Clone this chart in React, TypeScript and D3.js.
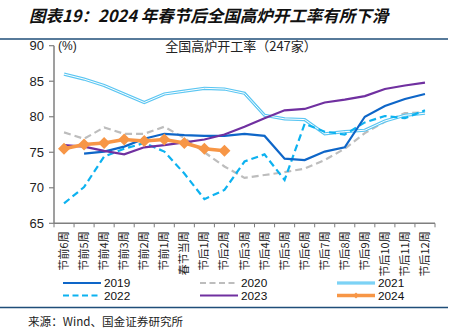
import React from "react";
import * as d3 from "d3";

const categories = [
  "节前6周", "节前5周", "节前4周", "节前3周", "节前2周", "节前1周", "春节当周",
  "节后1周", "节后2周", "节后3周", "节后4周", "节后5周", "节后6周", "节后7周",
  "节后8周", "节后9周", "节后10周", "节后11周", "节后12周",
];

const s2019: (number | null)[] = [null, 74.8, 75.1, 75.8, 76.9, 77.6, 77.4, 77.3, 77.3, 77.6, 77.3, 74.1, 73.9, 75.1, 75.7, 80.0, 81.5, 82.5, 83.2];
const s2020: (number | null)[] = [77.8, 76.9, 78.5, 77.6, 77.6, 78.6, 77.0, 75.0, 73.0, 71.4, 71.8, 72.2, 72.7, 73.9, 75.5, 77.7, 79.3, 80.5, 80.6];
const s2021: (number | null)[] = [86.0, 85.3, 84.4, 83.2, 82.0, 83.2, 83.6, 84.0, 83.9, 83.3, 80.2, 79.7, 79.6, 77.6, 77.9, 78.1, 79.4, 80.2, 80.5];
const s2022: (number | null)[] = [67.8, 70.1, 74.4, 75.5, 76.3, 75.1, 72.0, 68.4, 69.7, 73.7, 74.7, 71.1, 79.0, 77.9, 77.5, 79.2, 80.1, 79.8, 80.9];
const s2023: (number | null)[] = [76.0, 75.8, 75.2, 74.7, 75.7, 76.0, 76.4, 76.8, 77.5, 78.6, 79.8, 80.9, 81.1, 82.0, 82.4, 82.9, 83.9, 84.4, 84.8];
const s2024: (number | null)[] = [75.5, 76.1, 76.3, 76.8, 76.6, 76.8, 76.3, 75.5, 75.2];

const yTicks = [65, 70, 75, 80, 85, 90];

const W = 455, H = 335;
const left = 54, right = 435, top = 45.7, bottom = 223.3;

export default function App() {
  const x = d3.scaleBand<string>().domain(categories).range([left, right]).paddingInner(0).paddingOuter(0);
  const y = d3.scaleLinear().domain([65, 90]).range([bottom, top]);
  const cx = (i: number) => (x(categories[i]) as number) + x.bandwidth() / 2;
  const line = d3.line<number | null>()
    .defined((d) => d != null)
    .x((_, i) => cx(i))
    .y((d) => y(d as number));

  const font = "Liberation Sans, Arial, sans-serif";
  const cjk = "'Noto Sans CJK SC', sans-serif";

  const c2019 = "#0E66C8";
  const c2020 = "#BDBDBD";
  const c2021 = "#5BC6F2";
  const c2022 = "#0DB2F0";
  const c2023 = "#7030A0";
  const c2024 = "#F79646";

  const diamond = (px: number, py: number, r: number) =>
    `M${px},${py - r}L${px + r},${py}L${px},${py + r}L${px - r},${py}Z`;

  const legend = [
    { name: "2019", x: 63, y: 283, kind: "solid", color: c2019 },
    { name: "2020", x: 200, y: 283, kind: "dash", color: c2020 },
    { name: "2021", x: 337, y: 283, kind: "double", color: c2021 },
    { name: "2022", x: 63, y: 295.5, kind: "dash", color: c2022 },
    { name: "2023", x: 200, y: 295.5, kind: "solid", color: c2023 },
    { name: "2024", x: 337, y: 295.5, kind: "marker", color: c2024 },
  ];

  return (
    <svg width={W} height={H} style={{ position: "absolute", left: 0, top: 0, background: "#fff" }}>
      <rect x={0} y={0} width={W} height={H} fill="#fff" />
      <text x={29} y={22} fontFamily={cjk} fontSize={16.5} fontWeight="bold" fontStyle="italic" fill="#111">
        图表19：2024 年春节后全国高炉开工率有所下滑
      </text>
      <line x1={0} x2={448} y1={39} y2={39} stroke="#1F4E79" strokeWidth={1.5} />
      <line x1={0} x2={448} y1={307.5} y2={307.5} stroke="#1F4E79" strokeWidth={1.5} />
      <text x={28} y={326} fontFamily={cjk} fontSize={11.6} fill="#222">来源：Wind、国金证券研究所</text>

      <text x={241} y={51} textAnchor="middle" fontFamily={cjk} fontSize={13} fill="#222">全国高炉开工率（247家）</text>
      <text x={58} y={50} fontFamily={font} fontSize={12} fill="#222">(%)</text>

      {/* y axis */}
      <line x1={left} x2={left} y1={top} y2={bottom} stroke="#7F7F7F" strokeWidth={1.5} />
      {yTicks.map((t) => (
        <g key={t}>
          <line x1={left - 5} x2={left} y1={y(t)} y2={y(t)} stroke="#7F7F7F" strokeWidth={1.2} />
          <text x={44} y={y(t) + 4.5} textAnchor="end" fontFamily={font} fontSize={13} fill="#222">{t}</text>
        </g>
      ))}
      {/* x axis */}
      <line x1={left} x2={right} y1={bottom} y2={bottom} stroke="#7F7F7F" strokeWidth={1.5} />
      {categories.map((c, i) => (
        <line key={"t" + i} x1={x(c) as number} x2={x(c) as number} y1={bottom} y2={bottom + 4} stroke="#7F7F7F" strokeWidth={1} />
      ))}
      <line x1={right} x2={right} y1={bottom} y2={bottom + 4} stroke="#7F7F7F" strokeWidth={1} />
      {categories.map((c, i) => (
        <text key={"l" + i} transform={`translate(${cx(i) + 4},${bottom + 8}) rotate(-90)`} textAnchor="end"
          fontFamily={cjk} fontSize={11} fill="#222">{c}</text>
      ))}

      {/* series */}
      <path d={line(s2020) || ""} fill="none" stroke={c2020} strokeWidth={2.2} strokeDasharray="7,4" />
      <path d={line(s2021) || ""} fill="none" stroke={c2021} strokeWidth={3.2} />
      <path d={line(s2021) || ""} fill="none" stroke="#fff" strokeWidth={1} />
      <path d={line(s2022) || ""} fill="none" stroke={c2022} strokeWidth={2.2} strokeDasharray="7,4" />
      <path d={line(s2019) || ""} fill="none" stroke={c2019} strokeWidth={2.2} />
      <path d={line(s2023) || ""} fill="none" stroke={c2023} strokeWidth={2.2} />
      <path d={line(s2024) || ""} fill="none" stroke={c2024} strokeWidth={3.5} />
      {s2024.map((v, i) => v == null ? null : (
        <path key={"d" + i} d={diamond(cx(i), y(v), 6)} fill={c2024} />
      ))}

      {/* legend */}
      {legend.map((l) => (
        <g key={l.name}>
          {l.kind === "solid" && <line x1={l.x} x2={l.x + 38} y1={l.y} y2={l.y} stroke={l.color} strokeWidth={2.2} />}
          {l.kind === "dash" && <line x1={l.x} x2={l.x + 38} y1={l.y} y2={l.y} stroke={l.color} strokeWidth={2.2} strokeDasharray="6,3.5" />}
          {l.kind === "double" && (
            <>
              <line x1={l.x} x2={l.x + 38} y1={l.y} y2={l.y} stroke={l.color} strokeWidth={3} />
              <line x1={l.x} x2={l.x + 38} y1={l.y} y2={l.y} stroke="#aee6fb" strokeWidth={0.8} />
            </>
          )}
          {l.kind === "marker" && (
            <>
              <line x1={l.x} x2={l.x + 38} y1={l.y} y2={l.y} stroke={l.color} strokeWidth={3.5} />
              <path d={diamond(l.x + 19, l.y, 3)} fill={l.color} />
            </>
          )}
          <text x={l.x + 41} y={l.y + 4.2} fontFamily={font} fontSize={11.8} fill="#111">{l.name}</text>
        </g>
      ))}
    </svg>
  );
}
